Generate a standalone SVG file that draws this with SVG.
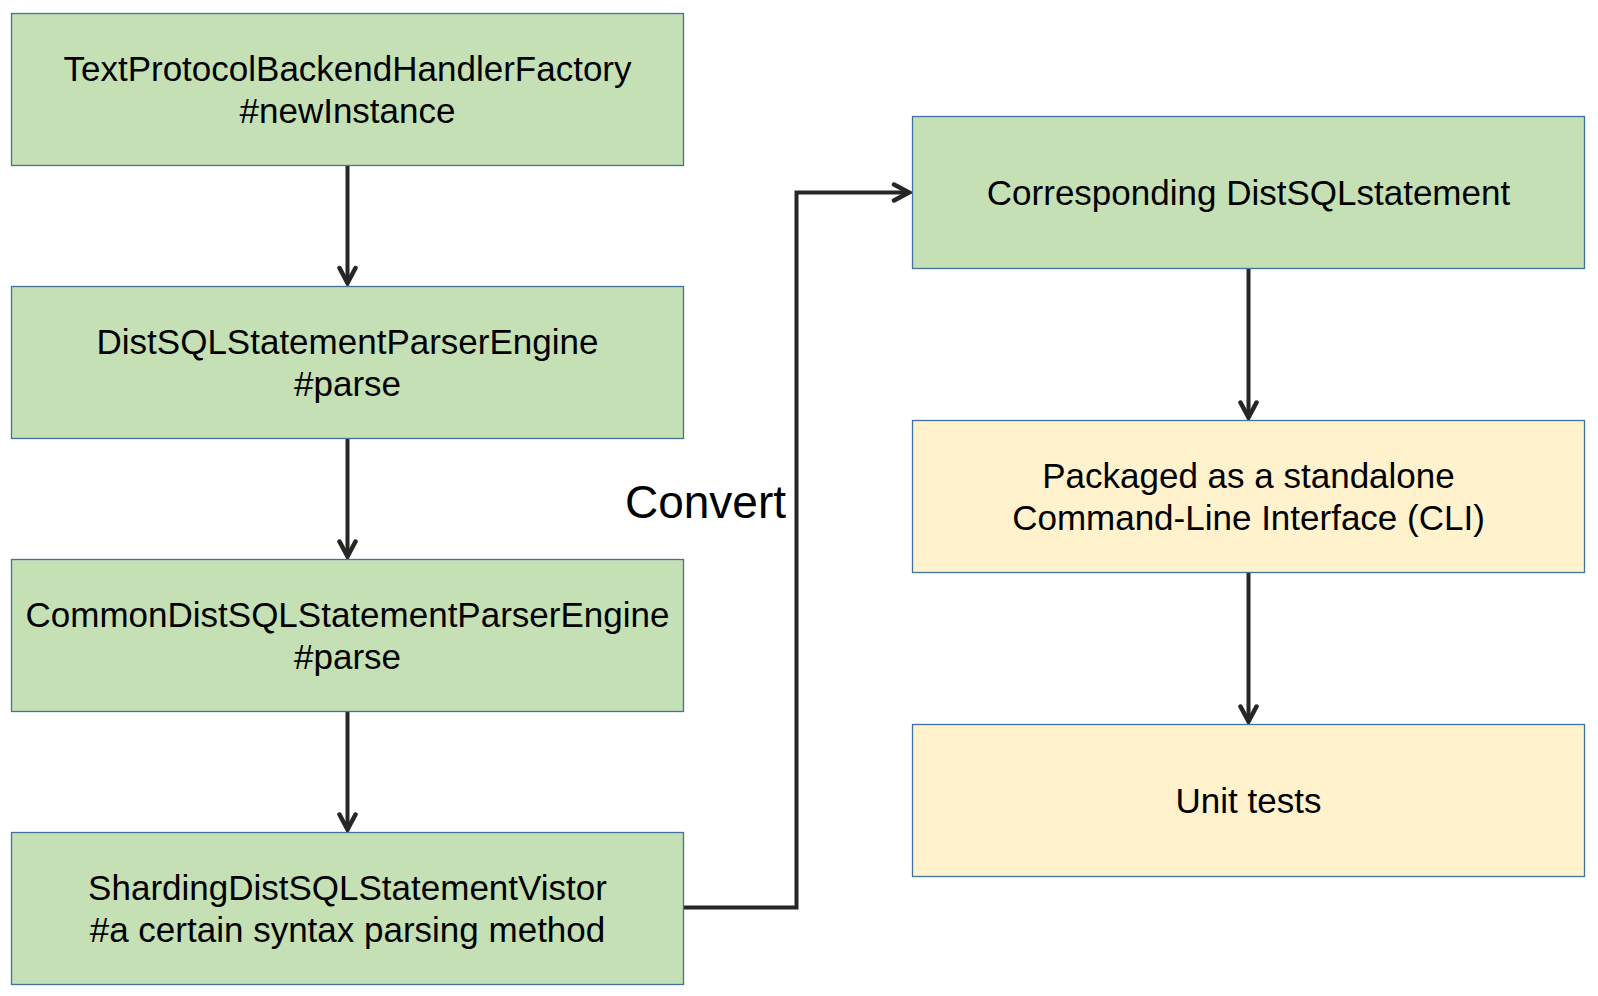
<svg xmlns="http://www.w3.org/2000/svg" width="1598" height="996" viewBox="0 0 1598 996">
<style>
.g{fill:#c5e0b4;stroke:#41719c;stroke-width:1.3}
.y{fill:#fff2cc;stroke:#41719c;stroke-width:1.3}
.t{font-family:"Liberation Sans",Arial,sans-serif;font-size:35px;fill:#000;text-anchor:middle}
.c{fill:none;stroke:#262626;stroke-width:4}
</style>
<defs>
<marker id="ah" markerUnits="userSpaceOnUse" markerWidth="26" markerHeight="26" refX="18" refY="11" orient="auto" viewBox="0 0 26 22">
<path d="M3,3 L18,11 L3,19" fill="none" stroke="#262626" stroke-width="4.5" stroke-linecap="round" stroke-linejoin="miter"/>
</marker>
</defs>
<rect width="1598" height="996" fill="#fff"/>
<g id="connectors">
<path class="c" d="M347.5,165.5 V283" marker-end="url(#ah)"/>
<path class="c" d="M347.5,438.5 V556.5" marker-end="url(#ah)"/>
<path class="c" d="M347.5,711.5 V829.5" marker-end="url(#ah)"/>
<path class="c" d="M683.5,907.5 H796.5 V192.5 H909" marker-end="url(#ah)"/>
<path class="c" d="M1248.5,268.5 V417.5" marker-end="url(#ah)"/>
<path class="c" d="M1248.5,572 V721.5" marker-end="url(#ah)"/>
<text x="786" y="518" font-family="'Liberation Sans',Arial,sans-serif" font-size="46" text-anchor="end" fill="#000">Convert</text>
</g>
<g id="n1"><rect class="g" x="11.5" y="13.5" width="672" height="152"/><text class="t" x="347.5" y="81">TextProtocolBackendHandlerFactory</text><text class="t" x="347.5" y="123">#newInstance</text></g>
<g id="n2"><rect class="g" x="11.5" y="286.5" width="672" height="152"/><text class="t" x="347.5" y="354">DistSQLStatementParserEngine</text><text class="t" x="347.5" y="396">#parse</text></g>
<g id="n3"><rect class="g" x="11.5" y="559.5" width="672" height="152"/><text class="t" x="347.5" y="627">CommonDistSQLStatementParserEngine</text><text class="t" x="347.5" y="669">#parse</text></g>
<g id="n4"><rect class="g" x="11.5" y="832.5" width="672" height="152"/><text class="t" x="347.5" y="900">ShardingDistSQLStatementVistor</text><text class="t" x="347.5" y="942">#a certain syntax parsing method</text></g>
<g id="r1"><rect class="g" x="912.5" y="116.5" width="672" height="152"/><text class="t" x="1248.5" y="205">Corresponding DistSQLstatement</text></g>
<g id="r2"><rect class="y" x="912.5" y="420.5" width="672" height="152"/><text class="t" x="1248.5" y="488">Packaged as a standalone</text><text class="t" x="1248.5" y="530">Command-Line Interface (CLI)</text></g>
<g id="r3"><rect class="y" x="912.5" y="724.5" width="672" height="152"/><text class="t" x="1248.5" y="813">Unit tests</text></g>
</svg>
